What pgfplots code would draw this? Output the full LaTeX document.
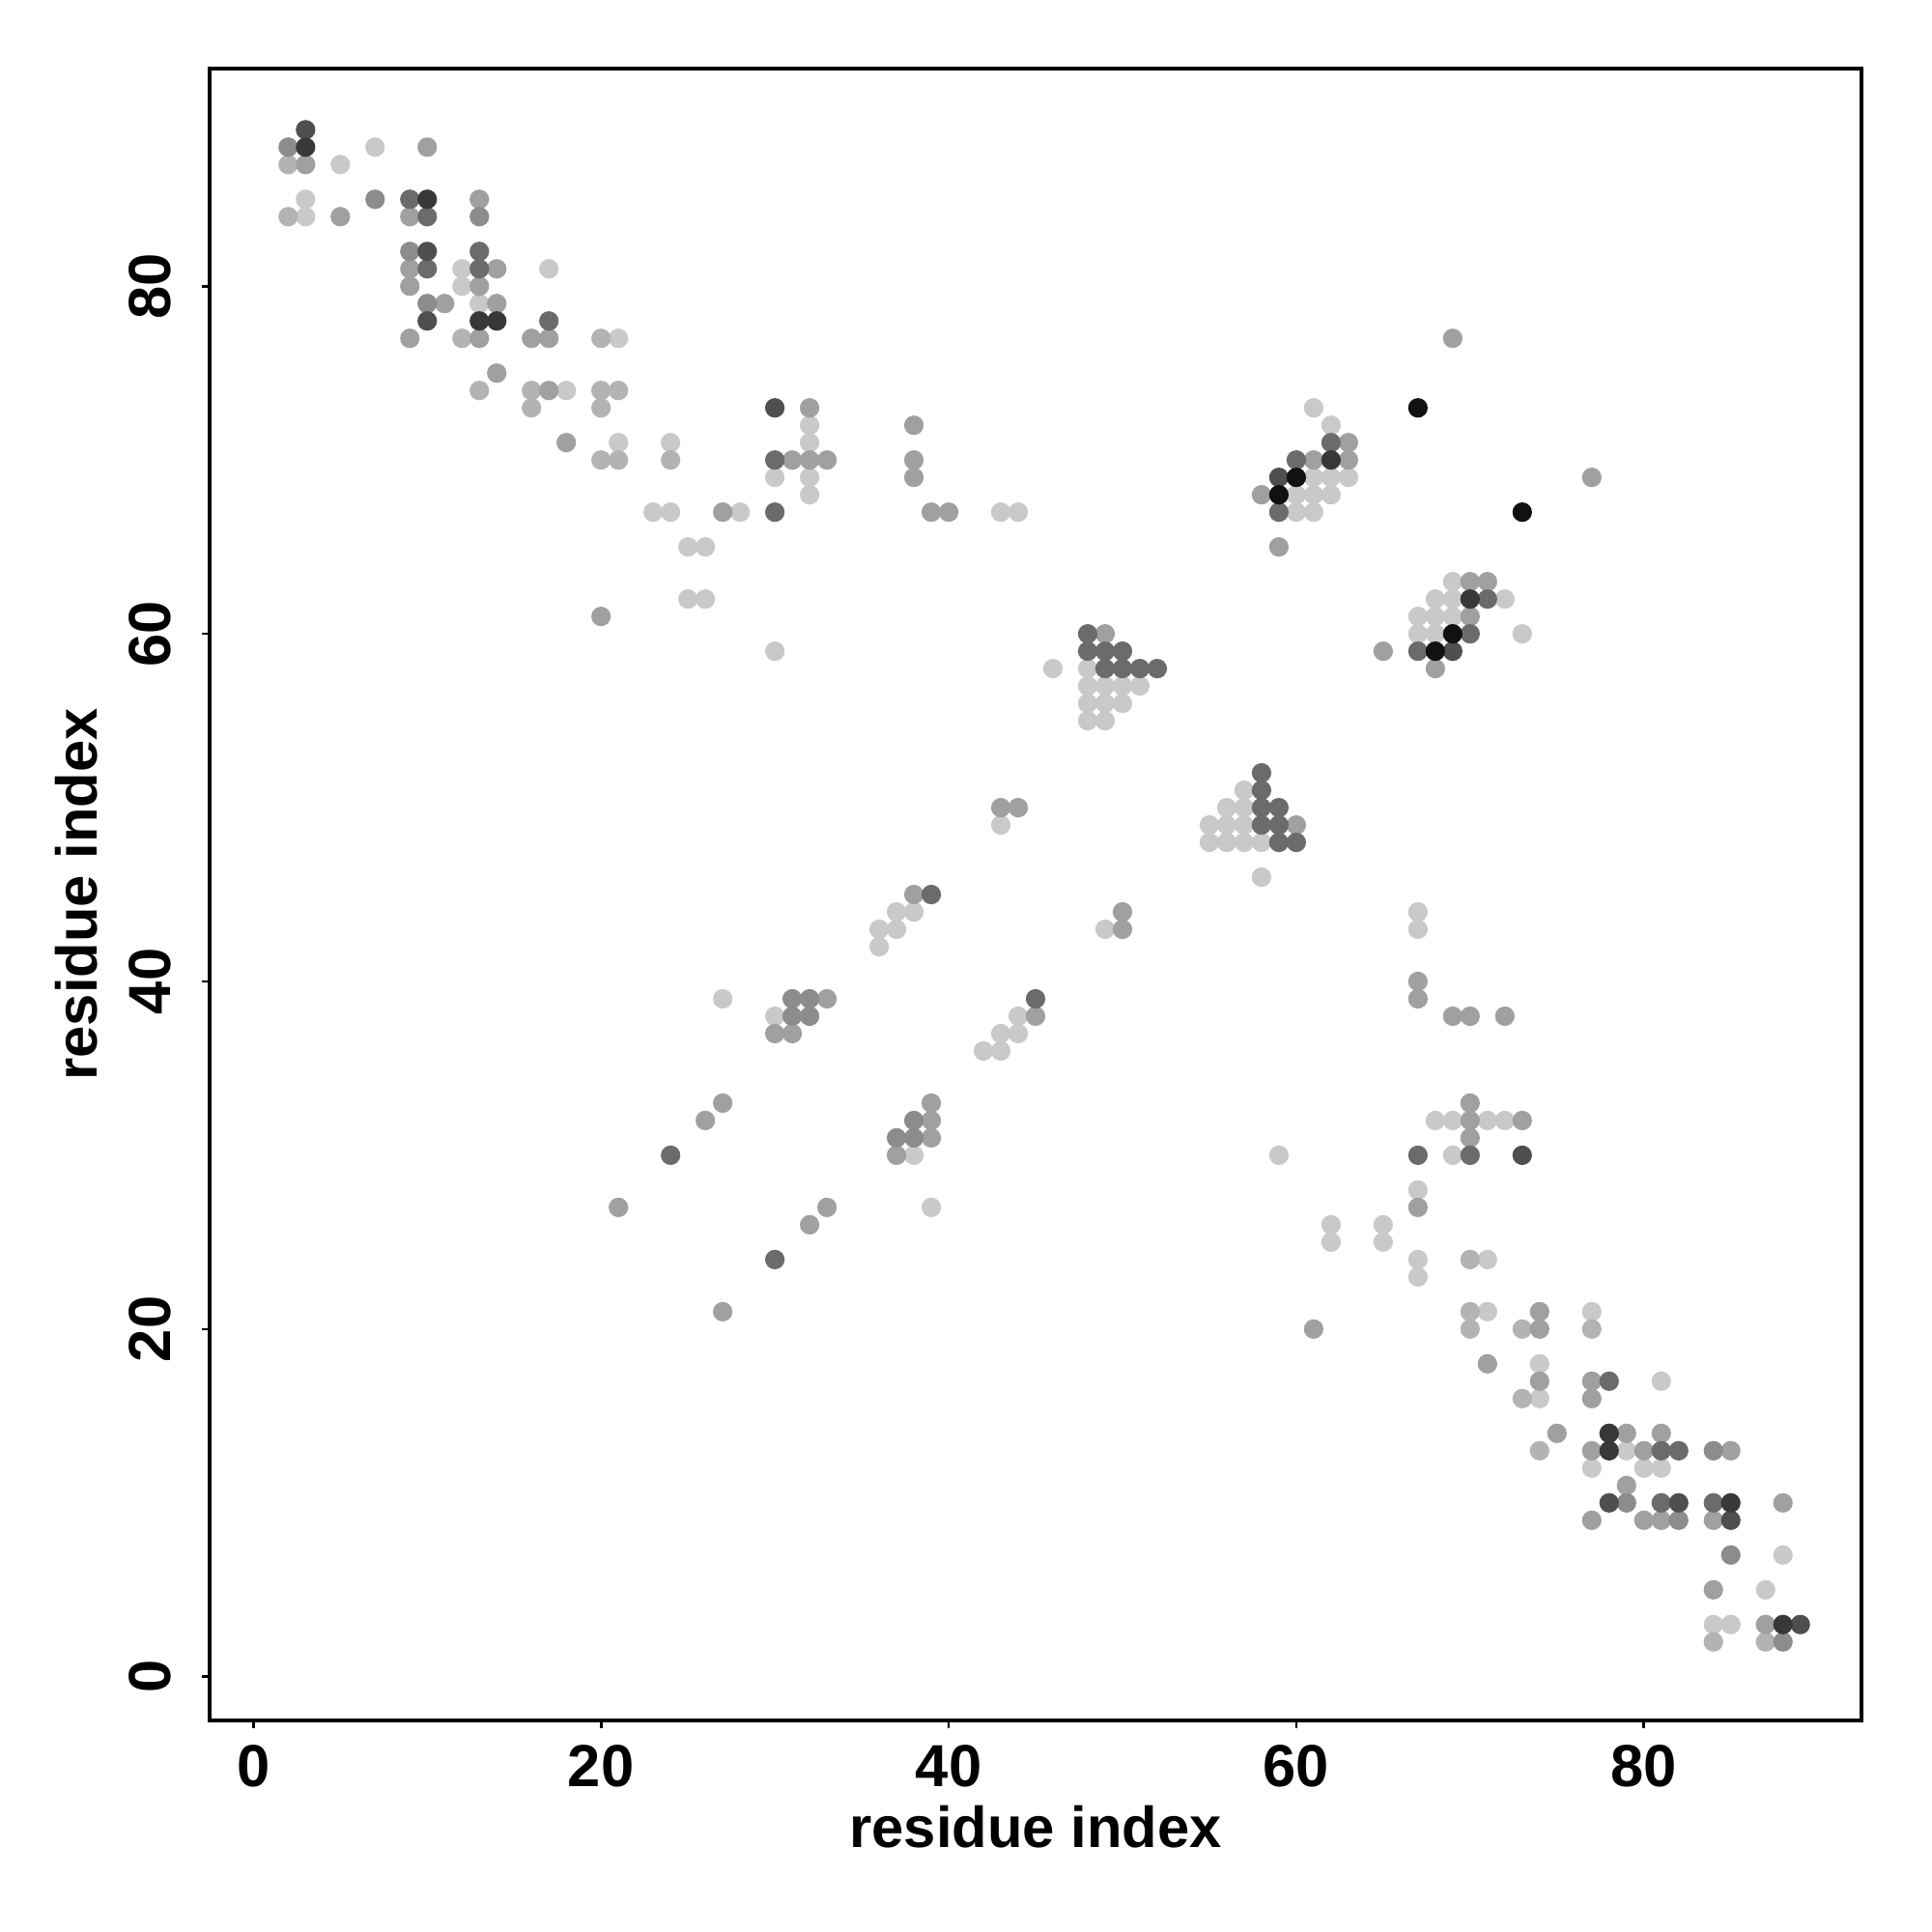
\documentclass[border=0pt]{standalone}
\usepackage{pgfplots}
\pgfplotsset{compat=1.18}
\usepackage{fontspec}
\setmainfont{Liberation Sans}
\definecolor{cA}{HTML}{C9C9C9}
\definecolor{cB}{HTML}{B3B3B3}
\definecolor{cC}{HTML}{A0A0A0}
\definecolor{cD}{HTML}{8C8C8C}
\definecolor{cE}{HTML}{6B6B6B}
\definecolor{cF}{HTML}{4F4F4F}
\definecolor{cG}{HTML}{383838}
\definecolor{cH}{HTML}{111111}
\begin{document}
\begin{tikzpicture}
\begin{axis}[name=ax, scale only axis, width=13.68cm, height=13.68cm,
  xmin=-2.52, xmax=92.52, ymin=-2.52, ymax=92.52,
  axis line style={line width=1.1pt},
  xtick={0,20,40,60,80}, ytick={0,20,40,60,80},
  tick pos=left, tick align=outside, major tick length=0.065cm,
  tick style={line width=0.6pt, black},
  /pgf/number format/assume math mode=true,
  ticklabel style={font=\fontsize{14}{16}\selectfont\bfseries, inner sep=0pt},
  xticklabel style={anchor=north, yshift=-0.13cm},
  yticklabel style={rotate=90, anchor=south},
  yticklabel shift=0.25cm,
  xlabel={residue index}, ylabel={residue index},
  xlabel style={at={(axis description cs:0.5,-0.0508)}, anchor=north, inner sep=0pt, font=\fontsize{13.6}{16}\selectfont\bfseries},
  ylabel style={at={(axis description cs:-0.0671,0.5)}, rotate=0, anchor=south, inner sep=0pt, font=\fontsize{13.6}{16}\selectfont\bfseries},
  every axis plot/.append style={only marks, mark=*, mark size=2.1pt},
]
\addplot[color=cA] coordinates {
(7,88)(5,87)(3,85)(3,84)(12,81)(17,81)(12,80)(13,79)(18,74)(21,77)(21,71)
(32,72)(24,71)(32,71)(30,69)(32,69)(32,68)(23,67)(24,67)(28,67)(43,67)(44,67)(25,65)(26,65)(25,62)(26,62)(30,59)(46,58)
(48,58)(48,57)(49,57)(50,57)(51,57)(48,56)(49,56)(50,56)(48,55)(49,55)(57,51)(56,50)(57,50)(55,49)(56,49)(57,49)(43,49)(55,48)(56,48)(57,48)(58,48)(58,46)(49,43)
(61,73)(62,72)(61,69)(62,69)(63,69)(60,68)(61,68)(62,68)(60,67)(61,67)(69,63)(68,62)(69,62)(72,62)(67,61)(68,61)(69,61)(67,60)(68,60)(73,60)
(37,44)(38,44)(36,43)(37,43)(36,42)(27,39)(30,38)(44,38)(43,37)(44,37)(42,36)(43,36)(38,30)(39,27)
(67,44)(67,43)(68,32)(69,32)(71,32)(72,32)(59,30)(69,30)(67,28)(62,26)(65,26)(62,25)(65,25)(67,24)(71,24)(67,23)
(71,21)(77,21)(74,18)(81,17)(74,16)(79,13)(77,12)(80,12)(81,12)(88,7)(87,5)(84,3)(85,3)
};
\addplot[color=cB] coordinates {
(2,87)(2,84)(12,77)(20,77)(13,74)(16,74)(20,74)(21,74)(16,73)(20,73)(20,70)(21,70)(24,70)
(70,24)(70,21)(70,20)(73,20)(77,20)(73,16)(74,13)(84,2)(87,2)
};
\addplot[color=cC] coordinates {
(10,88)(3,87)(13,85)(5,84)(9,84)(9,81)(14,81)(9,80)(13,80)(11,79)(14,79)(9,77)(13,77)(16,77)(17,77)(14,75)(17,74)(18,71)(20,61)
(32,73)(38,72)(31,70)(32,70)(33,70)(38,70)(38,69)(27,67)(39,67)(40,67)
(49,60)(65,59)(44,50)(43,50)(60,49)(50,44)(50,43)
(69,77)(63,71)(61,70)(63,70)(77,69)(58,68)(59,65)(70,63)(71,63)(70,61)(68,58)
(38,45)(33,39)(45,38)(30,37)(31,37)(27,33)(39,33)(26,32)(39,32)(39,31)(37,30)(21,27)(33,27)(32,26)(27,21)
(67,40)(67,39)(69,38)(70,38)(72,38)(70,33)(70,32)(73,32)(70,31)(67,27)(61,20)
(74,21)(74,20)(71,18)(74,17)(77,17)(77,16)(75,14)(79,14)(81,14)(77,13)(80,13)(85,13)(79,11)(88,10)(77,9)(80,9)(81,9)(84,9)(84,5)(87,3)
};
\addplot[color=cD] coordinates {
(2,88)(7,85)(13,84)(9,82)(10,79)
(31,39)(32,39)(31,38)(32,38)(38,32)(37,31)(38,31)
(84,13)(79,10)(82,9)(85,7)(88,2)
};
\addplot[color=cE] coordinates {
(10,84)(9,85)(13,82)(10,81)(13,81)(17,78)
(30,70)(30,67)
(48,60)(48,59)(49,59)(50,59)(49,58)(50,58)(51,58)(52,58)(58,52)(58,51)(58,50)(59,50)(58,49)(59,49)(59,48)(60,48)
(62,71)(60,70)(59,67)(71,62)(70,60)(67,59)
(39,45)(45,39)(24,30)(30,24)
(67,30)(70,30)
(78,17)(81,13)(82,13)(81,10)(84,10)
};
\addplot[color=cF] coordinates {
(3,89)(10,82)(10,78)(30,73)(59,69)(69,59)(73,30)(78,10)(82,10)(85,9)(89,3)
};
\addplot[color=cG] coordinates {
(3,88)(10,85)(13,78)(14,78)(62,70)(70,62)(78,14)(78,13)(85,10)(88,3)
};
\addplot[color=cH] coordinates {
(67,73)(60,69)(59,68)(73,67)(69,60)(68,59)
};
\end{axis}
\pgfresetboundingbox
\path ([shift={(-1.736cm,-1.744cm)}]ax.south west) rectangle ([shift={(0.584cm,0.568cm)}]ax.north east);
\end{tikzpicture}
\end{document}
